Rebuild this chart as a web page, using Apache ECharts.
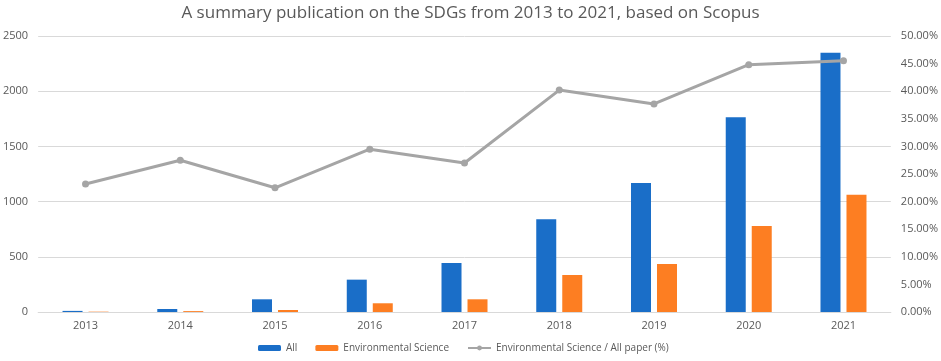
<!DOCTYPE html>
<html>
<head>
<meta charset="utf-8">
<script src="https://cdn.jsdelivr.net/npm/echarts@6/dist/echarts.min.js"></script>
<style>
  html, body { margin: 0; padding: 0; background: #fff; }
  #chart { width: 941px; height: 361px; }
</style>
</head>
<body>
<div id="chart"></div>
<script>
// values
const years = ["2013", "2014", "2015", "2016", "2017", "2018", "2019", "2020", "2021"];
const allPapers = [10, 27, 115, 293, 444, 840, 1168, 1763, 2349];
const envScience = [3, 8, 18, 79, 115, 335, 435, 779, 1063];
const envShare = [23.2, 27.5, 22.5, 29.5, 27.0, 40.2, 37.7, 44.8, 45.5];

const textColor = "#595959";
const font = "Open Sans";

const chart = echarts.init(document.getElementById("chart"));
const option = {
  animation: false,
  title: {
    text: "A summary publication on the SDGs from 2013 to 2021, based on Scopus",
    left: "center",
    top: 0,
    textStyle: { color: textColor, fontSize: 17, fontWeight: "normal", fontFamily: font },
  },
  legend: {
    left: 253,
    bottom: 3,
    itemWidth: 23,
    itemHeight: 6,
    itemGap: 18,
    textStyle: { color: textColor, fontSize: 10, fontFamily: font },
    data: ["All", "Environmental Science", "Environmental Science / All paper (%)"],
  },
  grid: { left: 36, right: 48, top: 36, bottom: 49 },
  xAxis: {
    type: "category",
    data: years,
    axisLine: { lineStyle: { color: "#d9d9d9" } },
    axisTick: { show: false },
    axisLabel: { color: textColor, fontSize: 11, fontFamily: font, margin: 8 },
  },
  yAxis: [
    {
      type: "value",
      min: 0,
      max: 2500,
      interval: 500,
      axisLine: { show: false },
      axisTick: { show: false },
      axisLabel: { color: textColor, fontSize: 11, fontFamily: font, margin: 10, formatter: (v) => String(v) },
      splitLine: { lineStyle: { color: "#d9d9d9" } },
    },
    {
      type: "value",
      min: 0,
      max: 50,
      interval: 5,
      axisLine: { show: false },
      axisTick: { show: false },
      splitLine: { show: false },
      axisLabel: {
        color: textColor,
        fontSize: 11,
        fontFamily: font,
        margin: 10,
        formatter: (v) => v.toFixed(2) + "%",
      },
    },
  ],
  series: [
    {
      name: "All",
      type: "bar",
      data: allPapers,
      barWidth: 20,
      barGap: "30%",
      itemStyle: { color: "#1a6ec8" },
    },
    {
      name: "Environmental Science",
      type: "bar",
      data: envScience,
      barWidth: 20,
      itemStyle: { color: "#fd7e22" },
    },
    {
      name: "Environmental Science / All paper (%)",
      type: "line",
      yAxisIndex: 1,
      data: envShare,
      symbol: "circle",
      symbolSize: 7,
      lineStyle: { color: "#a5a5a5", width: 3 },
      itemStyle: { color: "#a5a5a5" },
    },
  ],
};
chart.setOption(option);
</script>
</body>
</html>
